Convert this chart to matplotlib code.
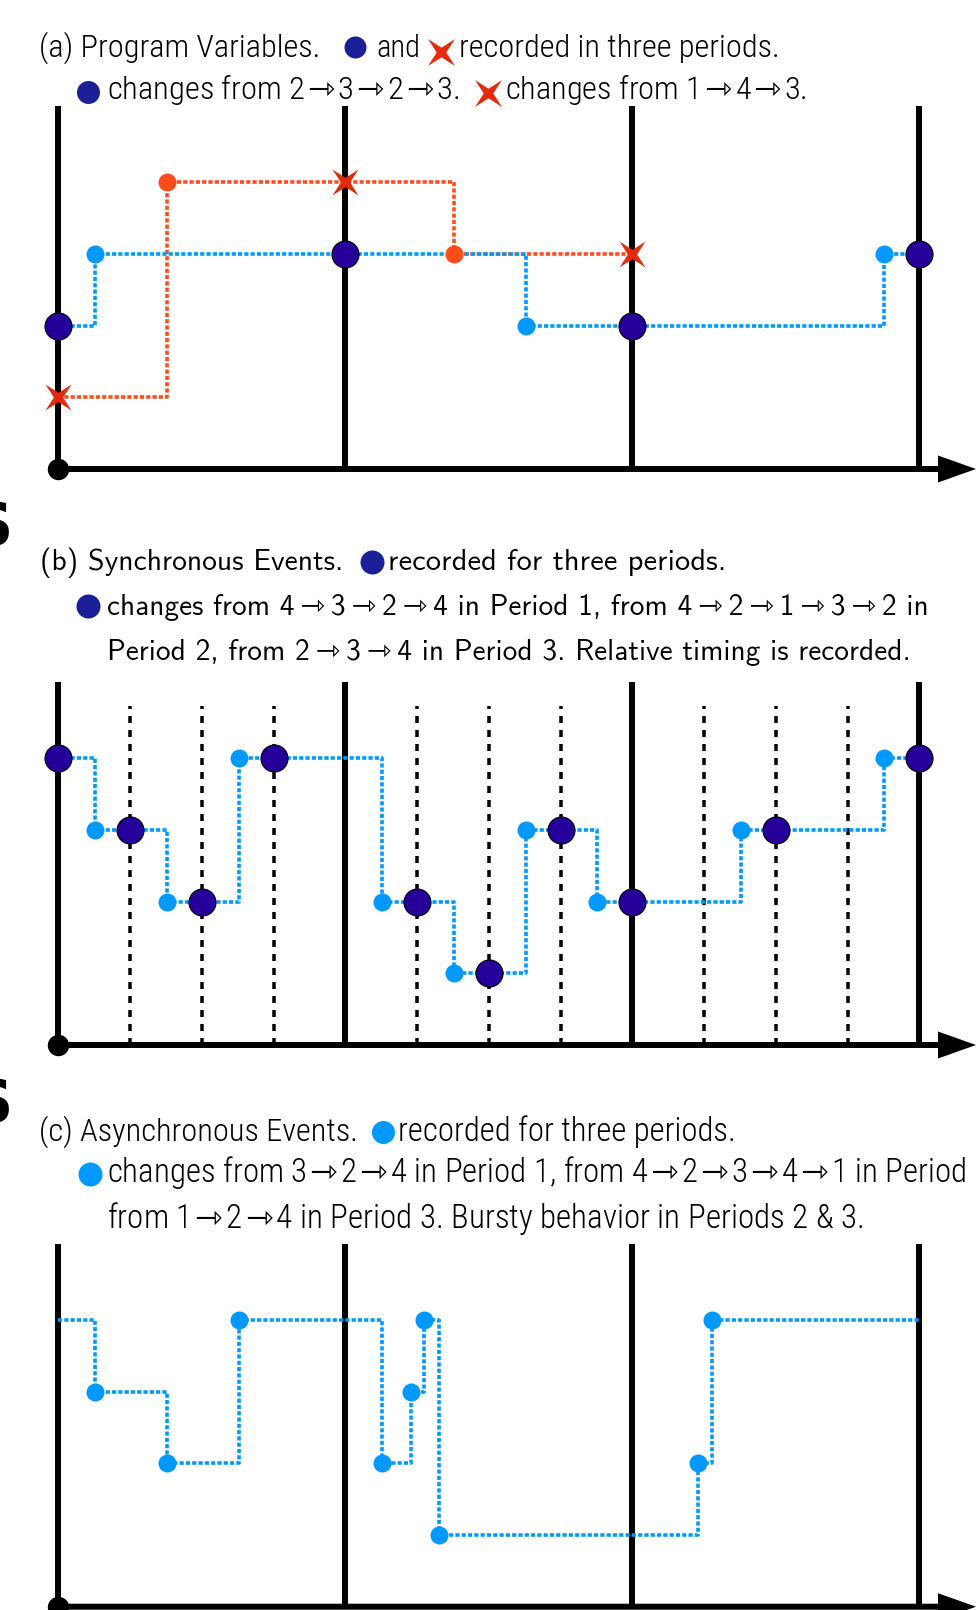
import matplotlib
matplotlib.use('Agg')
import matplotlib.pyplot as plt
from matplotlib.path import Path
from matplotlib.transforms import Affine2D

W, H = 976, 1610
PT = 0.72  # points per pixel at dpi 100

# period boundaries and quarter marks (in periods)
periods = [0, 1, 2, 3]
quarters = [0.25, 0.5, 0.75, 1.25, 1.5, 1.75, 2.25, 2.5, 2.75]

# (a) program variables: blue circle variable and red cross variable
a_circ_x = [0, 0.128, 1.628, 2.878, 3]
a_circ_y = [2, 3, 2, 3, 3]
a_circ_rec_x = [0, 1, 2, 3]
a_circ_rec_y = [2, 3, 2, 3]
a_cross_x = [0, 0.378, 1.378, 2]
a_cross_y = [1, 4, 3, 3]
a_cross_rec_x = [0, 1, 2]
a_cross_rec_y = [1, 4, 3]

# (b) synchronous events
b_x = [0, 0.128, 0.378, 0.628, 1.128, 1.378, 1.628, 1.878, 2.378, 2.878, 3]
b_y = [4, 3, 2, 4, 2, 1, 3, 2, 3, 4, 4]
b_rec_x = [0, 0.25, 0.5, 0.75, 1.25, 1.5, 1.75, 2, 2.5, 3]
b_rec_y = [4, 3, 2, 4, 2, 1, 3, 2, 3, 4]

# (c) asynchronous events
c_x = [0, 0.128, 0.378, 0.628, 1.128, 1.228, 1.275, 1.326, 2.228, 2.278, 3]
c_y = [4, 3, 2, 4, 2, 3, 4, 1, 2, 4, 4]

BLUE = '#0099ff'
RED = '#ff4d1a'
XRED = '#e42a0c'
DARK = '#25009a'
NAVY = '#1b2099'

X0, PX, LV = 58.3, 287.0, 71.7   # origin x, pixels per period, pixels per level

star = Path.unit_regular_star(4, 0.25)
xmark = Affine2D().rotate_deg(45).transform_path(star)

fig = plt.figure(figsize=(W / 100, H / 100), dpi=100)


def panel(top, bot, base):
    ax = fig.add_axes([0, (H - bot) / H, 1, (bot - top) / H])
    ax.set_xlim(-X0 / PX, (W - X0) / PX)
    ax.set_ylim((base - bot) / LV, (base - top) / LV)
    ax.axis('off')
    return ax


def frame(ax, ytop):
    ax.vlines(periods, 0, ytop, color='k', lw=6 * PT, zorder=1)
    ax.arrow(0, 0, (W - X0) / PX, 0, width=6 / LV, head_width=27 / LV,
             head_length=38 / PX, length_includes_head=True, color='k',
             lw=0, zorder=2, clip_on=False)
    ax.plot([0], [0], 'o', ms=20 * PT, color='k', zorder=2, clip_on=False)


def dotted(ax, x, y, color):
    ax.step(x, y, where='post', color=color, lw=3.6 * PT,
            dashes=(1.15, 0.6), zorder=3, clip_on=False)


def light(ax, x, y, color=BLUE):
    ax.plot(x, y, 'o', ms=18 * PT, color=color, mew=0, zorder=4, clip_on=False)


def dark(ax, x, y):
    ax.plot(x, y, 'o', ms=27 * PT, mfc=DARK, mec='k', mew=0.8,
            zorder=5, clip_on=False)


# panel (a)
ax = panel(95, 500, 469)
frame(ax, (469 - 106) / LV)
dotted(ax, a_cross_x, a_cross_y, RED)
dotted(ax, a_circ_x, a_circ_y, BLUE)
light(ax, a_cross_x[1:-1], a_cross_y[1:-1], RED)
light(ax, a_circ_x[1:-1], a_circ_y[1:-1])
dark(ax, a_circ_rec_x, a_circ_rec_y)
ax.plot(a_cross_rec_x, a_cross_rec_y, ls='none', marker=xmark, ms=26 * PT,
        color=XRED, mew=0, zorder=6, clip_on=False)

# panel (b)
ax = panel(665, 1080, 1045)
frame(ax, (1045 - 681.7) / LV)
ax.vlines(quarters, 0, (1045 - 706) / LV, color='k', lw=3.5 * PT,
          linestyles=(0, (2, 2)), zorder=1)
dotted(ax, b_x, b_y, BLUE)
light(ax, b_x[1:-1], b_y[1:-1])
dark(ax, b_rec_x, b_rec_y)

# panel (c)
ax = panel(1235, 1610, 1606.7)
frame(ax, (1606.7 - 1244) / LV)
dotted(ax, c_x, c_y, BLUE)
light(ax, c_x[1:-1], c_y[1:-1])

# captions
ov = fig.add_axes([0, 0, 1, 1])
ov.set_xlim(0, W)
ov.set_ylim(H, 0)
ov.axis('off')

cond = dict(family=['Roboto Condensed', 'DejaVu Sans'], weight='light',
            fontsize=23, va='baseline', color='k')
lm = dict(family=['Latin Modern Sans', 'DejaVu Sans'], fontsize=21.8,
          va='baseline', color='k')

fits = []


def say(x, y, s, w, style, arrow):
    t = ov.text(x, y, s.replace('>', arrow), **style)
    fits.append((t, w))


def sym(x, y, kind, color, size):
    if kind == 'o':
        ov.plot([x], [y], 'o', ms=size * PT, color=color, mew=0)
    else:
        ov.plot([x], [y], ls='none', marker=xmark, ms=size * PT, color=color, mew=0)


A1 = r'$\hspace{0.1}$' + '$\u21fe$' + r'$\hspace{0.1}$'   # Roboto lacks the arrow
A2 = '\u2009\u21fe\u2009'

say(39, 57, '(a) Program Variables.', 282, cond, A1)
sym(355, 47.5, 'o', NAVY, 22)
say(376, 57, 'and', 44, cond, A1)
sym(441, 52, 'x', XRED, 27)
say(459, 57, 'recorded in three periods.', 322, cond, A1)
sym(88, 92, 'o', NAVY, 23)
say(107, 99, 'changes from 2>3>2>3.', 353, cond, A1)
sym(488, 93, 'x', XRED, 27)
say(505, 99, 'changes from 1>4>3.', 302, cond, A1)

say(40, 570, '(b) Synchronous Events.', 305, lm, A2)
sym(372, 562, 'o', NAVY, 24)
say(388, 570, 'recorded for three periods.', 338, lm, A2)
sym(87.5, 606, 'o', NAVY, 24)
say(107, 615, 'changes from 4>3>2>4 in Period 1, from 4>2>1>3>2 in', 822, lm, A2)
say(107, 660, 'Period 2, from 2>3>4 in Period 3. Relative timing is recorded.', 804, lm, A2)

say(39, 1141, '(c) Asynchronous Events.', 319, cond, A1)
sym(383, 1132, 'o', BLUE, 23)
say(398, 1141, 'recorded for three periods.', 339, cond, A1)
sym(90, 1174, 'o', BLUE, 24)
say(107, 1182, 'changes from 3>2>4 in Period 1, from 4>2>3>4>1 in Period', 861, cond, A1)
say(107, 1228, 'from 1>2>4 in Period 3. Bursty behavior in Periods 2 & 3.', 759, cond, A1)

# scale each caption piece to the width it takes in the figure
fig.canvas.draw()
rend = fig.canvas.get_renderer()
for t, w in fits:
    t.set_fontsize(t.get_fontsize() * w / t.get_window_extent(rend).width)

# clipped letters at the left edge
for yb in (545, 1122):
    ov.text(13, yb, 'S', family='DejaVu Sans', weight='bold', fontsize=42,
            ha='right', va='baseline', color='k')

fig.savefig('out.png', dpi=100)
